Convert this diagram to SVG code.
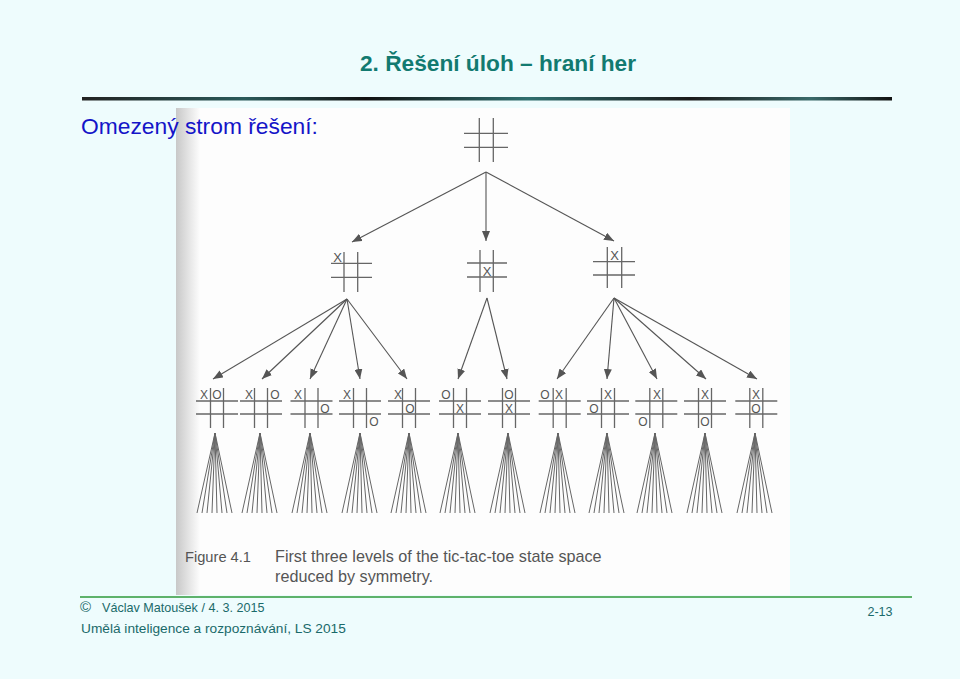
<svg xmlns="http://www.w3.org/2000/svg" xmlns:xlink="http://www.w3.org/1999/xlink" width="960" height="679" viewBox="0 0 960 679">
<style>
.title{font-family:"Liberation Sans",Arial,sans-serif;font-weight:bold;font-size:22.7px;fill:#127a70}
.sub{font-family:"Liberation Sans",Arial,sans-serif;font-size:22.8px;fill:#1414c8}
.grid{stroke:#666;stroke-width:1.3;fill:none}
.mark{font-family:"Liberation Sans",Arial,sans-serif;font-size:12px;fill:#555;text-anchor:middle}
.m2{font-size:13px}
.edge{stroke:#555;stroke-width:1.1;fill:none;marker-end:url(#ah)}
.fan{stroke:#666;stroke-width:1;fill:none}
.cap{font-family:"Liberation Sans",Arial,sans-serif;font-size:16.2px;fill:#555}
.foot{font-family:"Liberation Sans",Arial,sans-serif;font-size:12.6px;fill:#1a6a6a}
</style>
<defs>
<marker id="ah" viewBox="0 0 10 8" refX="10" refY="4" markerWidth="10" markerHeight="8" markerUnits="userSpaceOnUse" orient="auto">
<path d="M0,0 L10,4 L0,8 Z" fill="#555"/>
</marker>
<linearGradient id="rule" x1="0" x2="1" y1="0" y2="0">
<stop offset="0" stop-color="#222"/>
<stop offset="0.2" stop-color="#2a5a5a"/>
<stop offset="0.35" stop-color="#111"/>
<stop offset="0.55" stop-color="#2f6f6f"/>
<stop offset="0.75" stop-color="#1a1a1a"/>
<stop offset="0.9" stop-color="#3a6a6a"/>
<stop offset="1" stop-color="#111"/>
</linearGradient>
<linearGradient id="edgeL" x1="0" x2="1" y1="0" y2="0">
<stop offset="0" stop-color="#c8c8c8"/>
<stop offset="1" stop-color="#fdfdfd"/>
</linearGradient>
<g id="g3">
<line x1="-6.5" y1="-13" x2="-6.5" y2="27"/>
<line x1="6.5" y1="-13" x2="6.5" y2="27"/>
<line x1="-21" y1="0" x2="21" y2="0"/>
<line x1="-21" y1="13" x2="21" y2="13"/>
</g>
<g id="fan">
<line x1="0" y1="0" x2="-18" y2="80"/>
<line x1="0" y1="0" x2="-13" y2="80"/>
<line x1="0" y1="0" x2="-8" y2="80"/>
<line x1="0" y1="0" x2="-3" y2="80"/>
<line x1="0" y1="0" x2="2" y2="80"/>
<line x1="0" y1="0" x2="7" y2="80"/>
<line x1="0" y1="0" x2="12" y2="80"/>
<line x1="0" y1="0" x2="17" y2="80"/>
</g>
</defs>
<rect x="0" y="0" width="960" height="679" fill="#eefcfd"/>
<rect x="176" y="108" width="614" height="487" fill="#fdfdfd"/>
<rect x="176" y="108" width="24" height="487" fill="url(#edgeL)"/>
<text class="title" x="498" y="71" text-anchor="middle">2. Řešení úloh – hraní her</text>
<rect x="82" y="97" width="810" height="3.5" fill="url(#rule)"/>
<text class="sub" x="81" y="134">Omezený strom řešení:</text>

<g id="connectors">
<line class="edge" x1="486" y1="172" x2="352" y2="242"/>
<line class="edge" x1="486" y1="172" x2="486" y2="241"/>
<line class="edge" x1="486" y1="172" x2="614" y2="241"/>
<line class="edge" x1="347" y1="299" x2="213" y2="379"/>
<line class="edge" x1="347" y1="299" x2="262" y2="379"/>
<line class="edge" x1="347" y1="299" x2="310" y2="379"/>
<line class="edge" x1="347" y1="299" x2="360" y2="379"/>
<line class="edge" x1="347" y1="299" x2="407" y2="379"/>
<line class="edge" x1="487" y1="298" x2="458" y2="379"/>
<line class="edge" x1="487" y1="298" x2="507" y2="379"/>
<line class="edge" x1="614" y1="298" x2="557" y2="379"/>
<line class="edge" x1="614" y1="298" x2="607" y2="379"/>
<line class="edge" x1="614" y1="298" x2="657" y2="379"/>
<line class="edge" x1="614" y1="298" x2="706" y2="379"/>
<line class="edge" x1="614" y1="298" x2="757" y2="379"/>
</g>

<g id="root" class="grid">
<line x1="479.3" y1="118" x2="479.3" y2="162"/>
<line x1="493.3" y1="118" x2="493.3" y2="162"/>
<line x1="464" y1="133.3" x2="508" y2="133.3"/>
<line x1="464" y1="147.3" x2="508" y2="147.3"/>
</g>

<g id="l2a">
<g class="grid">
<line x1="344" y1="252" x2="344" y2="292"/>
<line x1="357.7" y1="252" x2="357.7" y2="292"/>
<line x1="331" y1="263.3" x2="372" y2="263.3"/>
<line x1="331" y1="277.3" x2="372" y2="277.3"/>
</g>
<text class="mark m2" x="337.5" y="262">X</text>
</g>
<g id="l2b">
<g class="grid">
<line x1="480" y1="250" x2="480" y2="292"/>
<line x1="493.3" y1="250" x2="493.3" y2="292"/>
<line x1="467" y1="263" x2="507" y2="263"/>
<line x1="467" y1="277" x2="507" y2="277"/>
</g>
<text class="mark m2" x="487" y="276">X</text>
</g>
<g id="l2c">
<g class="grid">
<line x1="607.3" y1="247" x2="607.3" y2="288"/>
<line x1="621.7" y1="247" x2="621.7" y2="288"/>
<line x1="593" y1="261.7" x2="635" y2="261.7"/>
<line x1="593" y1="275" x2="635" y2="275"/>
</g>
<text class="mark m2" x="614.5" y="260">X</text>
</g>

<g id="b1"><use href="#g3" class="grid" x="217" y="401"/><text class="mark" x="204" y="399">X</text><text class="mark" x="217" y="399">O</text></g>
<g id="b2"><use href="#g3" class="grid" x="261" y="401"/><text class="mark" x="249" y="399">X</text><text class="mark" x="275" y="399">O</text></g>
<g id="b3"><use href="#g3" class="grid" x="311.5" y="401"/><text class="mark" x="298" y="399">X</text><text class="mark" x="325" y="412.5">O</text></g>
<g id="b4"><use href="#g3" class="grid" x="360" y="401"/><text class="mark" x="347" y="399">X</text><text class="mark" x="374" y="426">O</text></g>
<g id="b5"><use href="#g3" class="grid" x="409" y="401"/><text class="mark" x="398" y="399">X</text><text class="mark" x="410" y="412.5">O</text></g>
<g id="b6"><use href="#g3" class="grid" x="460" y="401"/><text class="mark" x="446" y="399">O</text><text class="mark" x="460" y="412.5">X</text></g>
<g id="b7"><use href="#g3" class="grid" x="509" y="401"/><text class="mark" x="509" y="399">O</text><text class="mark" x="509" y="412.5">X</text></g>
<g id="b8"><use href="#g3" class="grid" x="559.7" y="401"/><text class="mark" x="545" y="399">O</text><text class="mark" x="559" y="399">X</text></g>
<g id="b9"><use href="#g3" class="grid" x="608" y="401"/><text class="mark" x="608" y="399">X</text><text class="mark" x="594" y="412.5">O</text></g>
<g id="b10"><use href="#g3" class="grid" x="656.3" y="401"/><text class="mark" x="657" y="399">X</text><text class="mark" x="643" y="426">O</text></g>
<g id="b11"><use href="#g3" class="grid" x="705" y="401"/><text class="mark" x="705" y="399">X</text><text class="mark" x="705" y="426">O</text></g>
<g id="b12"><use href="#g3" class="grid" x="756.3" y="401"/><text class="mark" x="756" y="399">X</text><text class="mark" x="756" y="412.5">O</text></g>

<g id="fans" class="fan">
<use href="#fan" x="215" y="433"/>
<use href="#fan" x="260" y="433"/>
<use href="#fan" x="310" y="433"/>
<use href="#fan" x="360" y="433"/>
<use href="#fan" x="409" y="433"/>
<use href="#fan" x="458" y="433"/>
<use href="#fan" x="508" y="433"/>
<use href="#fan" x="558" y="433"/>
<use href="#fan" x="607" y="433"/>
<use href="#fan" x="655" y="433"/>
<use href="#fan" x="705" y="433"/>
<use href="#fan" x="755" y="433"/>
</g>

<text class="cap" x="185" y="562" style="font-size:15.5px" textLength="66" lengthAdjust="spacingAndGlyphs">Figure 4.1</text>
<text class="cap" x="275" y="562">First three levels of the tic-tac-toe state space</text>
<text class="cap" x="275" y="582">reduced by symmetry.</text>

<line x1="80" y1="597" x2="912" y2="597" stroke="#2e9a3a" stroke-width="1.5"/>
<text class="foot" x="80" y="612" style="font-size:15px">©</text>
<text class="foot" x="102" y="612">Václav Matoušek /  4. 3. 2015</text>
<text class="foot" x="81" y="633" style="font-size:13.7px">Umělá inteligence a rozpoznávání, LS 2015</text>
<text class="foot" x="880" y="616" text-anchor="middle">2-13</text>
</svg>
